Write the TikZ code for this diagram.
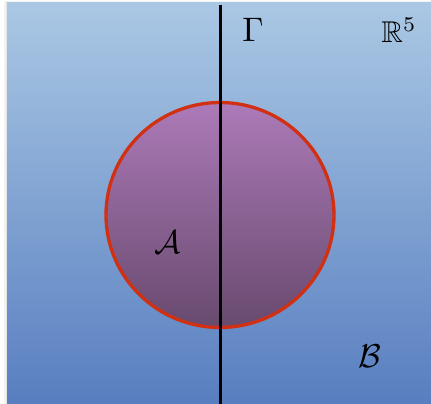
\documentclass[tikz,border=0pt]{standalone}
\usepackage{amssymb}
\definecolor{bgtop}{RGB}{170,200,228}
\definecolor{bgbot}{RGB}{88,126,192}
\definecolor{ctop}{RGB}{172,122,184}
\definecolor{cbot}{RGB}{104,74,110}
\definecolor{rim}{RGB}{210,48,18}
\tikzset{lbl/.style={inner sep=0pt,font=\normalsize}}
\begin{document}
\begin{tikzpicture}[x=1pt,y=-1pt]
\useasboundingbox (0,0) rectangle (431,404);
\fill[black!5] (4,1) rectangle (431,404);
\fill[black!10] (6,2) rectangle (431,404);
\shade[top color=bgtop,bottom color=bgbot] (7,3) rectangle (431,404);
\shade[top color=ctop,bottom color=cbot] (220,215) ellipse [x radius=114,y radius=112.5];
\draw[rim,line width=3.3pt] (220,215) ellipse [x radius=114,y radius=112.5];
\coordinate (ltop) at (220,5);
\coordinate (lbot) at (220,404);
\draw[black,line width=3pt] (ltop) -- (lbot);
\node[lbl,scale=3.4] (gamma) at (253,30) {$\Gamma$};
\node[lbl,scale=3.0] (space) at (399,30) {$\mathbb{R}^5$};
\node[lbl,scale=3.3] (setA) at (168,242) {$\mathcal{A}$};
\node[lbl,scale=3.3] (setB) at (370,356) {$\mathcal{B}$};
\end{tikzpicture}
\end{document}
